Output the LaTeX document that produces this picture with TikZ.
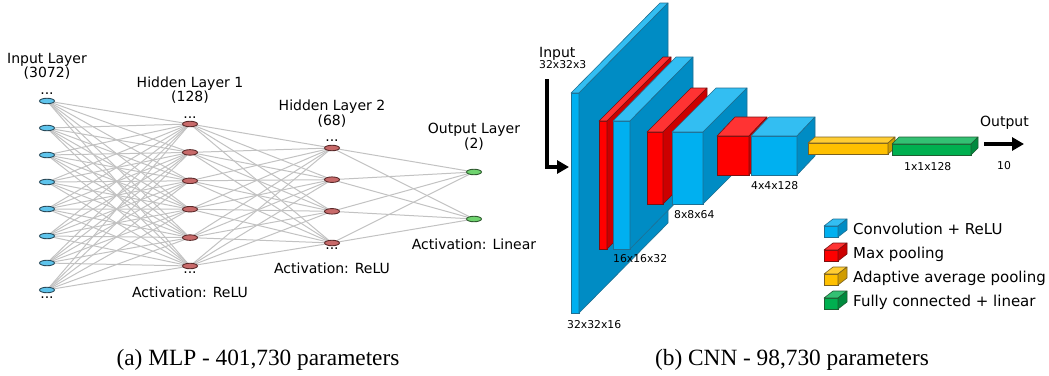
\documentclass[tikz,border=0pt]{standalone}
\usepackage{fontspec}
\setmainfont{Liberation Serif}
\newfontfamily\djv{DejaVu Sans}
\usetikzlibrary{shapes.geometric,arrows.meta,backgrounds}
\definecolor{bfront}{HTML}{00B0F0}
\definecolor{btop}{HTML}{33BEF2}
\definecolor{bside}{HTML}{008CC4}
\definecolor{bline}{HTML}{1F6F92}
\definecolor{rfront}{HTML}{FF0000}
\definecolor{rtop}{HTML}{FF3333}
\definecolor{rside}{HTML}{CC0000}
\definecolor{rline}{HTML}{7A1010}
\definecolor{yfront}{HTML}{FFC000}
\definecolor{ytop}{HTML}{FFCD33}
\definecolor{yside}{HTML}{D09C00}
\definecolor{yline}{HTML}{7A6020}
\definecolor{gfront}{HTML}{00B050}
\definecolor{gtop}{HTML}{33C073}
\definecolor{gside}{HTML}{008A3E}
\definecolor{gline}{HTML}{1D5E32}
\definecolor{edgec}{HTML}{C2C2C2}
\definecolor{infill}{HTML}{5EC4EC}
\definecolor{indraw}{HTML}{2A4A5A}
\definecolor{hidfill}{HTML}{C86A6A}
\definecolor{hiddraw}{HTML}{5A2A2A}
\definecolor{outfill}{HTML}{6FD46F}
\definecolor{outdraw}{HTML}{2F5A2F}
% #1 x1, #2 x2, #3 ytop, #4 ybot, #5 dx, #6 dy, #7 colour prefix
\newcommand\cubox[7]{%
  \fill[#7front,draw=#7line,line width=0.6pt] (#1,#3) rectangle (#2,#4);
  \fill[#7top,draw=#7line,line width=0.6pt,line join=round] (#1,#3) -- ({#1+#5},{#3-#6}) -- ({#2+#5},{#3-#6}) -- (#2,#3) -- cycle;
  \fill[#7side,draw=#7line,line width=0.6pt,line join=round] (#2,#3) -- ({#2+#5},{#3-#6}) -- ({#2+#5},{#4-#6}) -- (#2,#4) -- cycle;
}
\begin{document}
\begin{tikzpicture}[x=1pt,y=-1pt,
  lbl/.style={font=\djv\fontsize{14}{16}\selectfont,anchor=base,inner sep=0pt},
  smalllbl/.style={font=\djv\fontsize{10.8}{12}\selectfont,anchor=base west,inner sep=0pt},
  leglbl/.style={font=\djv\fontsize{15}{17}\selectfont,anchor=base west,inner sep=0pt},
  caplbl/.style={font=\fontsize{23.3}{26}\selectfont,anchor=base,inner sep=0pt},
  neuron/.style={ellipse,minimum width=15pt,minimum height=5.5pt,inner sep=0pt,line width=0.9pt},
  innode/.style={neuron,fill=infill,draw=indraw},
  hidnode/.style={neuron,fill=hidfill,draw=hiddraw},
  outnode/.style={neuron,fill=outfill,draw=outdraw},
  edge/.style={draw=edgec,line width=1pt},
  bigarrow/.style={line width=3.5pt,-{Triangle[length=12pt,width=13pt]}}
]
\useasboundingbox (0,0) rectangle (1049,375);

% ---------------- MLP ----------------
\foreach \y [count=\i] in {101,128,155,182,209,236,263,290}
  \node[innode] (i\i) at (47,\y) {};
\foreach \y [count=\i] in {124,152.4,180.8,209.2,237.6,266}
  \node[hidnode] (h\i) at (190,\y) {};
\foreach \y [count=\i] in {148,179.67,211.33,243}
  \node[hidnode] (g\i) at (332,\y) {};
\foreach \y [count=\i] in {172,219}
  \node[outnode] (o\i) at (474,\y) {};

\begin{pgfonlayer}{background}
\foreach \a in {1,...,8}
  \foreach \b in {1,...,6}
    \draw[edge] (i\a) -- (h\b);
\foreach \a in {1,...,6}
  \foreach \b in {1,...,4}
    \draw[edge] (h\a) -- (g\b);
\foreach \a in {1,...,4}
  \foreach \b in {1,2}
    \draw[edge] (g\a) -- (o\b);
\end{pgfonlayer}

\node[lbl] (dI1) at (47,94) {...};
\node[lbl] (dI2) at (47,298) {...};
\node[lbl] (dH1) at (190,118) {...};
\node[lbl] (dH2) at (190,273) {...};
\node[lbl] (dG1) at (332,141) {...};
\node[lbl] (dG2) at (332,249) {...};

\node[lbl] (tin1) at (47,63) {Input Layer};
\node[lbl] (tin2) at (47,77) {(3072)};
\node[lbl] (th1a) at (190,87) {Hidden Layer 1};
\node[lbl] (th1b) at (190,101) {(128)};
\node[lbl] (th2a) at (332,110) {Hidden Layer 2};
\node[lbl] (th2b) at (332,125) {(68)};
\node[lbl] (toa) at (474,133.5) {Output Layer};
\node[lbl] (tob) at (474,148) {(2)};
\node[lbl] (act1) at (190,297) {Activation: ReLU};
\node[lbl] (act2) at (332,273) {Activation: ReLU};
\node[lbl] (act3) at (474,249) {Activation: Linear};

% ---------------- CNN ----------------
\cubox{571}{579}{93}{313}{89}{90}{b}
\cubox{599}{607}{121}{249}{64}{64}{r}
\cubox{613}{630}{121}{249}{63}{64}{b}
\cubox{647}{663}{132}{204}{44}{44}{r}
\cubox{672}{703}{132}{204}{44}{44}{b}
\cubox{717}{749}{136}{175}{18}{19}{r}
\cubox{751}{797}{136}{175}{18}{19}{b}
\cubox{808}{888}{143}{154}{7}{6}{y}
\cubox{892}{971}{144}{155}{7}{7}{g}

\coordinate (ia) at (547,79);
\coordinate (ic) at (569,167);
\draw[bigarrow] (ia) |- (ic);
\coordinate (oa) at (984,144);
\coordinate (ob) at (1024,144);
\draw[bigarrow] (oa) -- (ob);

\node[lbl,anchor=base west] (tinput) at (539,57) {Input};
\node[smalllbl] (tin3) at (539,68) {32x32x3};
\node[smalllbl] (s1) at (567,328) {32x32x16};
\node[smalllbl] (s2) at (613,262) {16x16x32};
\node[smalllbl] (s3) at (674,218) {8x8x64};
\node[smalllbl] (s4) at (751,189) {4x4x128};
\node[smalllbl] (s5) at (904,170) {1x1x128};
\node[lbl,anchor=base west] (tout) at (980,126.5) {Output};
\node[smalllbl] (s6) at (997,169) {10};

% legend
\cubox{824}{838}{226}{237}{9}{7}{b}
\cubox{824}{838}{250}{261}{9}{7}{r}
\cubox{824}{838}{274}{285}{9}{7}{y}
\cubox{824}{838}{298}{309}{9}{7}{g}
\node[leglbl] (l1) at (853,234) {Convolution + ReLU};
\node[leglbl] (l2) at (853,258) {Max pooling};
\node[leglbl] (l3) at (853,282) {Adaptive average pooling};
\node[leglbl] (l4) at (853,306.5) {Fully connected + linear};

% captions
\node[caplbl] (capa) at (258,365) {(a) MLP - 401,730 parameters};
\node[caplbl] (capb) at (792,365) {(b) CNN - 98,730 parameters};
\end{tikzpicture}
\end{document}
